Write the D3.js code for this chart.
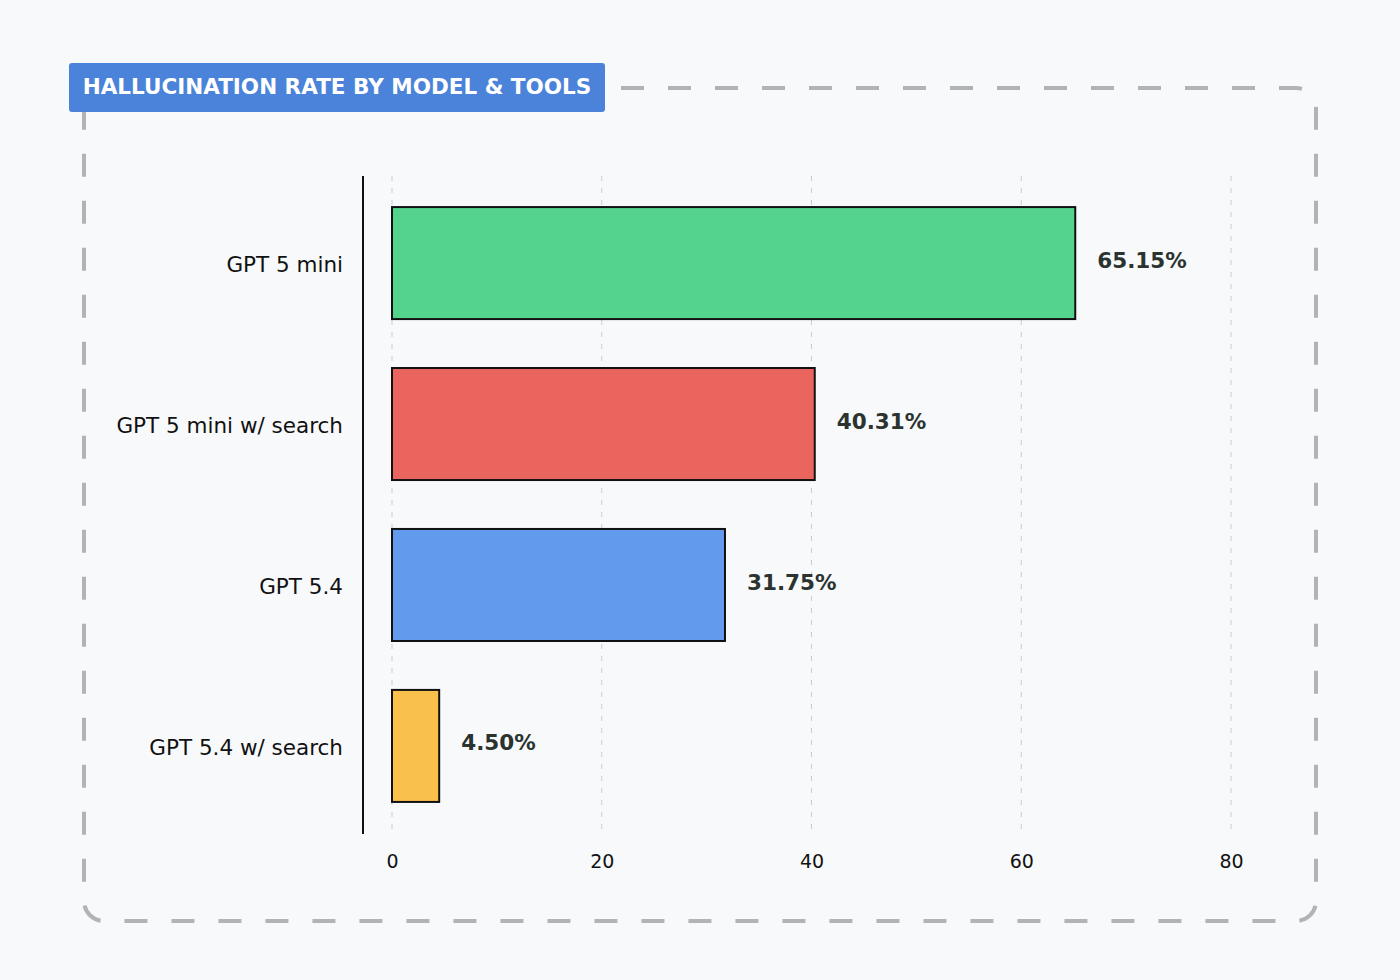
<!DOCTYPE html>
<html>
<head>
<meta charset="utf-8">
<script src="https://cdn.jsdelivr.net/npm/d3@7"></script>
<style>
  body { margin: 0; background: #f8f9fb; }
  svg { display: block; font-family: "DejaVu Sans", sans-serif; }
</style>
</head>
<body>
<div class="chart"></div>
<script>
const models = ['GPT 5 mini', 'GPT 5 mini w/ search', 'GPT 5.4', 'GPT 5.4 w/ search'];
const rates = [65.15, 40.31, 31.75, 4.50];
const colors = ['#53d38c', '#eb655f', '#629bee', '#f9c04c'];
const ticks = [0, 20, 40, 60, 80];
const title = 'HALLUCINATION RATE BY MODEL & TOOLS';

const width = 1400;
const height = 980;

const svg = d3.select('.chart').append('svg')
  .attr('width', width)
  .attr('height', height)

svg.append('rect')
  .attr('width', width)
  .attr('height', height)
  .attr('fill', '#f8f9fb')

// dashed frame
svg.append('rect')
  .attr('x', 84).attr('y', 88)
  .attr('width', 1232).attr('height', 833)
  .attr('rx', 20)
  .attr('fill', 'none')
  .attr('stroke', '#b3b3b3')
  .attr('stroke-width', 4)
  .attr('stroke-dasharray', '23,24')

const x = d3.scaleLinear().domain([0, 80]).range([392, 1231]);
const y = d3.scaleBand().domain(models).range([176, 833]).paddingInner(0.304).paddingOuter(0.193);

// grid
svg.append('g')
  .selectAll('line')
  .data(ticks)
  .enter()
  .append('line')
  .attr('x1', d => x(d)).attr('x2', d => x(d))
  .attr('y1', 176).attr('y2', 833)
  .attr('stroke', '#c8ccd0')
  .attr('stroke-width', 1)
  .attr('stroke-dasharray', '5,7')

// bars
svg.append('g')
  .selectAll('rect')
  .data(models)
  .enter()
  .append('rect')
  .attr('x', x(0))
  .attr('y', d => y(d))
  .attr('width', (d, i) => x(rates[i]) - x(0))
  .attr('height', y.bandwidth())
  .attr('fill', (d, i) => colors[i])
  .attr('stroke', '#111')
  .attr('stroke-width', 2)

// value labels
svg.append('g')
  .selectAll('text')
  .data(models)
  .enter()
  .append('text')
  .attr('x', (d, i) => x(rates[i]) + 22)
  .attr('y', d => y(d) + y.bandwidth() / 2 - 3)
  .attr('dy', '0.35em')
  .attr('font-size', 21.5)
  .attr('font-weight', 'bold')
  .attr('fill', '#2b332f')
  .text((d, i) => rates[i].toFixed(2) + '%')

// y axis
const yAxis = svg.append('g')
  .attr('transform', 'translate(363,0)')
  .call(d3.axisLeft(y).tickSize(0).tickPadding(20))
yAxis.select('.domain').remove()
yAxis.selectAll('text')
  .attr('font-size', 21.5)
  .attr('fill', '#111')
  .attr('font-family', '"DejaVu Sans", sans-serif')
  .attr('dy', '0.4em')

svg.append('line')
  .attr('x1', 363).attr('x2', 363)
  .attr('y1', 176).attr('y2', 834)
  .attr('stroke', '#111')
  .attr('stroke-width', 2)

// x axis
const xAxis = svg.append('g')
  .attr('transform', 'translate(0,850)')
  .call(d3.axisBottom(x).tickValues(ticks).tickSize(0).tickPadding(0))
xAxis.select('.domain').remove()
xAxis.selectAll('text')
  .attr('font-size', 19)
  .attr('fill', '#111')
  .attr('font-family', '"DejaVu Sans", sans-serif')
  .attr('dy', '0.95em')

// title badge
const badge = svg.append('g')
badge.append('rect')
  .attr('x', 69).attr('y', 63)
  .attr('width', 536).attr('height', 49)
  .attr('rx', 3)
  .attr('fill', '#4a83d9')
badge.append('text')
  .attr('x', 337).attr('y', 86.5)
  .attr('dy', '0.36em')
  .attr('text-anchor', 'middle')
  .attr('font-size', 21.5)
  .attr('font-weight', 'bold')
  .attr('fill', '#fff')
  .text(title)
</script>
</body>
</html>
